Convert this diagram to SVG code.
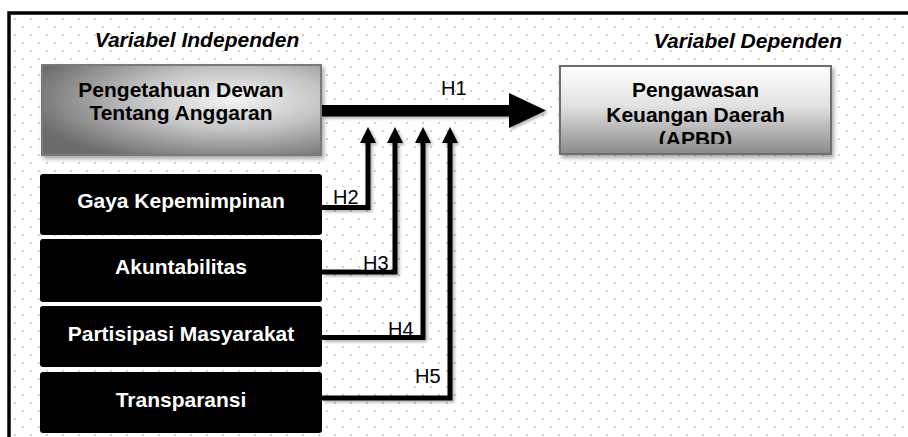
<svg xmlns="http://www.w3.org/2000/svg" width="908" height="437" viewBox="0 0 908 437">
  <style>
    .lbl{font-family:"Liberation Sans",Arial,sans-serif;font-weight:bold;font-size:21px;text-anchor:middle}
    .hdr{font-family:"Liberation Sans",Arial,sans-serif;font-weight:bold;font-style:italic;font-size:21px;text-anchor:middle;fill:#000}
    .h{font-family:"Liberation Sans",Arial,sans-serif;font-size:20px;fill:#000}
    .wh{fill:#fff}
    .bk{fill:#000}
    .conn{fill:none;stroke:#000;stroke-width:5;stroke-linejoin:miter}
  </style>
  <defs>
    <pattern id="dots" x="0" y="0" width="16" height="16" patternUnits="userSpaceOnUse">
      <rect x="14.2" y="2.2" width="1.6" height="1.6" fill="#bdb595"/>
      <rect x="6.2" y="10.2" width="1.6" height="1.6" fill="#bdb595"/>
    </pattern>
    <radialGradient id="g1" cx="0.68" cy="0.38" r="0.75">
      <stop offset="0" stop-color="#f4f4f4"/>
      <stop offset="0.45" stop-color="#c4c4c4"/>
      <stop offset="1" stop-color="#6c6c6c"/>
    </radialGradient>
    <linearGradient id="g2" x1="0" y1="0" x2="0" y2="1">
      <stop offset="0" stop-color="#ffffff"/>
      <stop offset="0.45" stop-color="#e2e2e2"/>
      <stop offset="1" stop-color="#8a8a8a"/>
    </linearGradient>
    <filter id="sh" x="-10%" y="-10%" width="130%" height="140%">
      <feDropShadow dx="2" dy="3" stdDeviation="2" flood-color="#000" flood-opacity="0.35"/>
    </filter>
    <filter id="lsh" x="-20%" y="-20%" width="140%" height="140%">
      <feDropShadow dx="2" dy="2" stdDeviation="1.5" flood-color="#000" flood-opacity="0.3"/>
    </filter>
    <clipPath id="clip2">
      <rect x="560" y="66" width="271" height="78"/>
    </clipPath>
  </defs>

  <rect x="0" y="0" width="908" height="437" fill="#fff"/>
  <rect x="9" y="13" width="1000" height="500" fill="url(#dots)"/>
  <rect x="9" y="13" width="1000" height="500" fill="none" stroke="#000" stroke-width="3.5"/>

  <text class="hdr" x="197" y="47">Variabel Independen</text>
  <text class="hdr" x="748" y="48">Variabel Dependen</text>

  <g id="connectors">
    <g filter="url(#lsh)">
      <path class="bk" d="M322 105 H509 V93 L546 110.5 L509 128 V116.5 H322 Z"/>
      <path class="conn" d="M322 207.5 H368 V142"/>
      <path class="conn" d="M322 272 H395 V142"/>
      <path class="conn" d="M322 337.5 H423 V142"/>
      <path class="conn" d="M322 398 H450 V142"/>
      <path class="bk" d="M360 143 L368 127 L376 143 Z"/>
      <path class="bk" d="M387 143 L395 127 L403 143 Z"/>
      <path class="bk" d="M415 143 L423 127 L431 143 Z"/>
      <path class="bk" d="M442 143 L450 127 L458 143 Z"/>
    </g>
    <text class="h" x="441" y="95">H1</text>
    <rect class="wh" x="331" y="187" width="31" height="18"/>
    <text class="h" x="333" y="204">H2</text>
    <rect class="wh" x="361" y="253" width="30" height="16.5"/>
    <text class="h" x="363" y="270">H3</text>
    <rect class="wh" x="386" y="319" width="30" height="16"/>
    <text class="h" x="388" y="336">H4</text>
    <text class="h" x="415" y="383">H5</text>
  </g>

  <g id="n1">
    <rect x="42" y="65" width="279" height="90" fill="url(#g1)" stroke="#7a7a7a" stroke-width="2" filter="url(#sh)"/>
    <text class="lbl" x="181" y="97">Pengetahuan Dewan</text>
    <text class="lbl" x="181" y="120">Tentang Anggaran</text>
  </g>

  <g id="n2">
    <rect x="560" y="66" width="271" height="88" fill="url(#g2)" stroke="#6e6e6e" stroke-width="2" filter="url(#sh)"/>
    <g clip-path="url(#clip2)">
      <text class="lbl" x="695.5" y="97">Pengawasan</text>
      <text class="lbl" x="695.5" y="121.5">Keuangan Daerah</text>
      <text class="lbl" x="695.5" y="146">(APBD)</text>
    </g>
  </g>

  <g id="n3">
    <rect x="40" y="174" width="282" height="61" rx="3" class="bk"/>
    <text class="lbl" x="181" y="208" fill="#fff">Gaya Kepemimpinan</text>
  </g>
  <g id="n4">
    <rect x="40" y="239" width="282" height="63" rx="3" class="bk"/>
    <text class="lbl" x="181" y="274" fill="#fff">Akuntabilitas</text>
  </g>
  <g id="n5">
    <rect x="40" y="306" width="282" height="61" rx="3" class="bk"/>
    <text class="lbl" x="181" y="340.5" fill="#fff">Partisipasi Masyarakat</text>
  </g>
  <g id="n6">
    <rect x="40" y="372" width="282" height="61" rx="3" class="bk"/>
    <text class="lbl" x="181" y="407" fill="#fff">Transparansi</text>
  </g>
</svg>
